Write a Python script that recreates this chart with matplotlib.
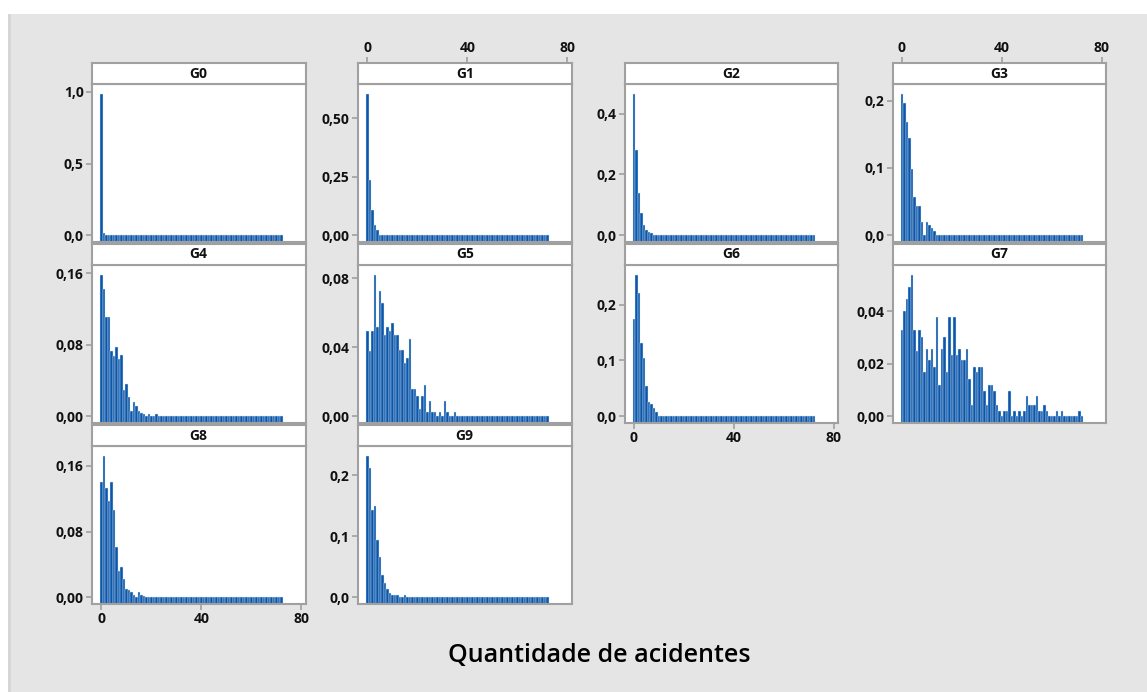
import numpy as np
import matplotlib.pyplot as plt
from matplotlib.patches import Rectangle

plt.rcParams['font.family'] = ['Open Sans', 'DejaVu Sans']

# probability of each accident count (0..72) per group
n_counts = 73
counts = np.arange(n_counts)

g0 = [0.985, 0.015, 0.003]
g1 = [0.604, 0.237, 0.107, 0.043, 0.024]
g2 = [0.465, 0.282, 0.138, 0.073, 0.033, 0.018, 0.012, 0.008]
g3 = [0.210, 0.197, 0.168, 0.144, 0.098, 0.057, 0.044, 0.044, 0.020, 0.000,
      0.020, 0.015, 0.011, 0.006]
g4 = [0.158, 0.142, 0.111, 0.111, 0.073, 0.067, 0.077, 0.064, 0.069, 0.029,
      0.036, 0.022, 0.006, 0.016, 0.011, 0.006, 0.004, 0.003, 0.000, 0.003,
      0.000, 0.000, 0.002]
g5 = [0.0497, 0.0378, 0.0497, 0.0820, 0.0518, 0.0727, 0.0656, 0.0474, 0.0518, 0.0497,
      0.0541, 0.0474, 0.0474, 0.0382, 0.0382, 0.0311, 0.0336, 0.0449, 0.0161, 0.0161,
      0.0115, 0.0042, 0.0115, 0.0182, 0.0023, 0.0090, 0.0023, 0.0023, 0.0000, 0.0023,
      0.0000, 0.0090, 0.0023, 0.0000, 0.0000, 0.0023]
g6 = [0.1745, 0.2534, 0.2208, 0.1318, 0.1039, 0.0534, 0.0249, 0.0220, 0.0142, 0.0071]
g7 = [0.0327, 0.0400, 0.0447, 0.0492, 0.0539, 0.0327, 0.0249, 0.0327, 0.0303, 0.0167,
      0.0257, 0.0213, 0.0257, 0.0189, 0.0377, 0.0120, 0.0257, 0.0303, 0.0167, 0.0377,
      0.0233, 0.0377, 0.0233, 0.0257, 0.0213, 0.0213, 0.0257, 0.0144, 0.0044, 0.0189,
      0.0167, 0.0189, 0.0189, 0.0097, 0.0044, 0.0120, 0.0120, 0.0097, 0.0044, 0.0021,
      0.0000, 0.0021, 0.0021, 0.0097, 0.0000, 0.0021, 0.0000, 0.0021, 0.0000, 0.0021,
      0.0076, 0.0044, 0.0044, 0.0044, 0.0076, 0.0021, 0.0021, 0.0044, 0.0021, 0.0000,
      0.0000, 0.0000, 0.0021, 0.0000, 0.0021, 0.0000, 0.0000, 0.0000, 0.0000, 0.0000,
      0.0000, 0.0021, 0.0000]
g8 = [0.1403, 0.1723, 0.1330, 0.1178, 0.1403, 0.1063, 0.0616, 0.0316, 0.0369, 0.0222,
      0.0098, 0.0090, 0.0070, 0.0029, 0.0000, 0.0070, 0.0029, 0.0020]
g9 = [0.232, 0.212, 0.143, 0.149, 0.0934, 0.0663, 0.0359, 0.0232, 0.0133, 0.0066,
      0.0039, 0.0039, 0.0039, 0.0000, 0.0000, 0.0039]

groups = ['G0', 'G1', 'G2', 'G3', 'G4', 'G5', 'G6', 'G7', 'G8', 'G9']
series = [g0, g1, g2, g3, g4, g5, g6, g7, g8, g9]
yticks = [[0, 0.5, 1.0], [0, 0.25, 0.5], [0, 0.2, 0.4], [0, 0.1, 0.2],
          [0, 0.08, 0.16], [0, 0.04, 0.08], [0, 0.1, 0.2], [0, 0.02, 0.04],
          [0, 0.08, 0.16], [0, 0.1, 0.2]]
ydecimals = [1, 2, 1, 1, 2, 2, 1, 2, 2, 1]
xticks = [0, 40, 80]
top_ticks = {'G1', 'G3'}
bottom_ticks = {'G6', 'G8'}

W, H = 1147, 692
fig = plt.figure(figsize=(W / 100, H / 100), dpi=100, facecolor='white')

# grey panel background with a thin darker left rule
fig.patches.append(Rectangle((8 / W, 0), 3 / W, 1 - 14 / H, transform=fig.transFigure,
                             facecolor='#d6d6d6', edgecolor='none', zorder=-2))
fig.patches.append(Rectangle((11 / W, 0), 1 - 11 / W, 1 - 14 / H, transform=fig.transFigure,
                             facecolor='#e5e5e5', edgecolor='none', zorder=-2))

frame_col = '#a0a0a0'
bar_col = '#0b56a9'
txt_col = '#111111'
col_left = [92, 358, 624.5, 892.5]
col_w = 213.5
strip_h = 21
row_top0, row_pitch, panel_h = 63, 181, 179
xlim = (-3.7, 81.6)
lab_size = 10
lab_weight = 'bold'


def style_frame(ax):
    for s in ax.spines.values():
        s.set_color(frame_col)
        s.set_linewidth(1.5)
    ax.tick_params(color=frame_col, width=1.2, length=4, labelsize=lab_size,
                   labelcolor=txt_col, pad=2)


for i, (name, vals) in enumerate(zip(groups, series)):
    r, c = divmod(i, 4)
    top = row_top0 + r * row_pitch
    left = col_left[c]

    y = np.zeros(n_counts)
    y[:len(vals)] = vals
    ymax = y.max()
    span = ymax / 0.895
    lo, hi = -0.0425 * span, ymax + 0.0625 * span

    # plot area
    ax = fig.add_axes([left / W, 1 - (top + panel_h) / H, col_w / W,
                       (panel_h - strip_h) / H])
    ax.bar(counts, y - lo, bottom=lo, width=1.0, color=bar_col,
           edgecolor='#d8e6f6', linewidth=0.3)
    ax.set_xlim(*xlim)
    ax.set_ylim(lo, hi)
    ax.set_yticks(yticks[i])
    fmt = '{:.%df}' % ydecimals[i]
    ax.set_yticklabels([fmt.format(t).replace('.', ',') for t in yticks[i]],
                       fontweight=lab_weight)
    style_frame(ax)
    if name in bottom_ticks:
        ax.set_xticks(xticks)
        ax.set_xticklabels([str(t) for t in xticks], fontweight=lab_weight)
    else:
        ax.set_xticks([])

    # strip with group label
    sx = fig.add_axes([left / W, 1 - (top + strip_h) / H, col_w / W, strip_h / H])
    sx.set_facecolor('white')
    sx.set_xlim(*xlim)
    sx.set_yticks([])
    style_frame(sx)
    if name in top_ticks:
        sx.xaxis.tick_top()
        sx.set_xticks(xticks)
        sx.set_xticklabels([str(t) for t in xticks], fontweight=lab_weight)
    else:
        sx.set_xticks([])
    sx.text(0.5, 0.5, name, transform=sx.transAxes, ha='center', va='center',
            fontsize=lab_size, fontweight=lab_weight, color=txt_col)

fig.text(599 / W, 1 - 655 / H, 'Quantidade de acidentes', ha='center', va='center',
         fontsize=18, fontweight='semibold', color='black')

fig.savefig('out.png', dpi=100, facecolor=fig.get_facecolor())
